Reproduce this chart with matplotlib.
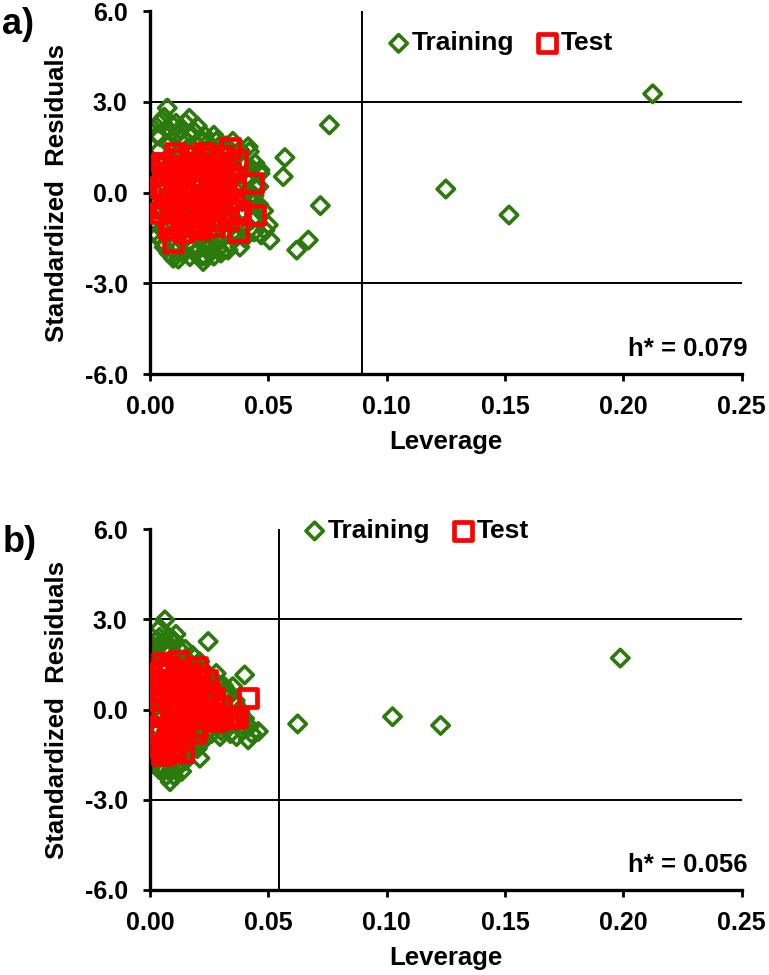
import numpy as np
import matplotlib.pyplot as plt

plt.rcParams['font.family'] = ['Liberation Sans', 'DejaVu Sans']
plt.rcParams['font.weight'] = 'bold'

GREEN = '#2b7a0b'
RED = '#ff0000'

# ---- panel a) data (leverage, standardized residual) ----
train_a_x = [0.0073, 0.0166, 0.0127, 0.0042, 0.0113, 0.0176, 0.0210, 0.0245, 0.0280, 0.0320,
             0.0415, 0.0444, 0.0465, 0.0420, 0.0440, 0.0465, 0.0570, 0.0563, 0.0758, 0.0720,
             0.0669, 0.0620, 0.0507, 0.0500, 0.0486, 0.0460, 0.0430, 0.0400, 0.0360, 0.0338,
             0.0290, 0.0254, 0.0225, 0.0240, 0.0260, 0.0169, 0.0099, 0.0106, 0.0060, 0.0030,
             0.0025, 0.0030, 0.0025, 0.0030, 0.0035, 0.0040, 0.0080, 0.0070, 0.1250, 0.1517,
             0.2124, 0.0080, 0.0120, 0.0150, 0.0180, 0.0200, 0.0220, 0.0250, 0.0280, 0.0300,
             0.0330, 0.0360, 0.0380, 0.0100, 0.0140, 0.0170, 0.0200, 0.0230, 0.0260, 0.0290,
             0.0320, 0.0350, 0.0390, 0.0070, 0.0110, 0.0150, 0.0190, 0.0220, 0.0270, 0.0310,
             0.0060, 0.0130, 0.0160, 0.0210, 0.0240, 0.0090, 0.0120, 0.0050, 0.0180, 0.0280,
             0.0340, 0.0370, 0.0410, 0.0430, 0.0200, 0.0150, 0.0100, 0.0310, 0.0230, 0.0050,
             0.0040, 0.0060, 0.0090, 0.0110, 0.0140, 0.0190, 0.0230, 0.0270, 0.0300, 0.0350,
             0.0380, 0.0400, 0.0420, 0.0450, 0.0470, 0.0440, 0.0400, 0.0380, 0.0330, 0.0300,
             0.0270, 0.0220, 0.0190, 0.0140, 0.0120, 0.0080, 0.0050, 0.0030, 0.0020, 0.0020,
             0.0350, 0.0390, 0.0430, 0.0460, 0.0480, 0.0440, 0.0320, 0.0280, 0.0240, 0.0160]
train_a_y = [2.80, 2.46, 2.08, 1.85, 1.91, 1.91, 1.75, 1.65, 1.70, 1.55,
             1.52, 0.97, 0.64, 1.36, 0.20, 0.75, 1.16, 0.53, 2.24, -0.43,
             -1.57, -1.90, -1.57, -1.07, -1.24, -0.40, -0.90, -1.10, -1.50, -1.67,
             -1.85, -2.00, -2.28, -1.84, -1.68, -2.12, -2.17, -1.95, -1.80, -1.40,
             -1.00, -0.50, 0.00, 0.50, 1.00, 1.40, 1.60, 2.10, 0.12, -0.74,
             3.27, 1.20, 0.90, 1.40, 0.60, 1.10, 0.30, 0.80, 1.20, 0.40,
             0.90, 0.10, 0.60, 0.20, -0.30, -0.80, -0.20, -0.60, -1.00, -0.40,
             -0.90, -0.50, -0.30, -0.70, -1.30, -1.50, -1.20, -1.50, -1.30, -0.10,
             0.60, 0.50, 0.10, 0.70, -0.10, -0.20, -0.90, -1.20, -1.80, 0.20,
             0.50, -1.00, 0.00, -0.30, 2.20, 2.30, 2.20, 1.30, -2.10, 2.40,
             2.30, 2.50, 2.00, 2.30, 1.80, 2.00, 1.90, 1.90, 1.60, 1.70,
             1.40, 0.90, 0.50, -0.80, -1.40, -1.30, -1.50, -1.80, -1.90, -2.00,
             -2.10, -2.10, -2.00, -2.00, -2.20, -2.00, -1.60, 1.90, -0.30, 0.80,
             1.20, 1.00, 0.80, 0.20, -0.60, -0.10, -1.30, -1.60, -1.70, -1.70]
test_a_x = [0.0106, 0.0338, 0.0260, 0.0366, 0.0437, 0.0444, 0.0373, 0.0099, 0.0042, 0.0042,
            0.0060, 0.0080, 0.0100, 0.0120, 0.0130, 0.0150, 0.0160, 0.0180, 0.0190, 0.0200,
            0.0220, 0.0230, 0.0240, 0.0260, 0.0280, 0.0290, 0.0300, 0.0320, 0.0340, 0.0350,
            0.0080, 0.0140, 0.0060, 0.0170, 0.0270, 0.0210, 0.0330, 0.0310,
            0.0050, 0.0070, 0.0090, 0.0110, 0.0120, 0.0140, 0.0160, 0.0170, 0.0190, 0.0210,
            0.0220, 0.0240, 0.0250, 0.0270, 0.0280, 0.0300, 0.0310, 0.0330, 0.0360, 0.0380,
            0.0130, 0.0150, 0.0180, 0.0090, 0.0060, 0.0100, 0.0200, 0.0230, 0.0260, 0.0120]
test_a_y = [1.30, 1.47, 1.19, 1.08, 0.31, -0.74, -1.29, -1.62, -0.68, 0.20,
            0.60, -0.20, 0.40, -0.60, 0.90, 0.00, -1.00, 0.50, -0.40, 1.00,
            0.20, -0.80, 0.70, -0.30, 0.40, 1.00, -0.60, 0.10, 0.70, -0.20,
            -1.20, -1.30, -0.50, 1.20, -1.10, -1.20, -0.90, 0.50,
            1.00, 0.90, 0.70, 0.00, 1.10, 0.30, 0.80, -0.30, 0.20, -0.10,
            0.90, -0.50, 0.30, 0.80, -0.90, 0.20, 1.20, -0.30, 0.30, -0.60,
            -0.90, -0.60, -1.10, -0.90, 0.00, -0.40, 0.50, 1.30, 0.00, 0.50]

# ---- panel b) data ----
train_b_x = [0.0624, 0.1025, 0.1228, 0.1987, 0.0063, 0.0042, 0.0085, 0.0246, 0.0127, 0.0028,
             0.0400, 0.0458, 0.0415, 0.0211, 0.0134, 0.0085, 0.0056, 0.0014, 0.0210, 0.0280,
             0.0350, 0.0380, 0.0420, 0.0366, 0.0296, 0.0211, 0.0140, 0.0020, 0.0020, 0.0020,
             0.0020, 0.0025, 0.0025, 0.0030, 0.0100, 0.0150, 0.0180, 0.0090, 0.0120, 0.0160,
             0.0200, 0.0240, 0.0270, 0.0300, 0.0320, 0.0060, 0.0080, 0.0110, 0.0130, 0.0170,
             0.0190, 0.0220, 0.0250, 0.0290, 0.0330, 0.0340, 0.0050, 0.0070, 0.0100, 0.0150,
             0.0180, 0.0230, 0.0260, 0.0040, 0.0090, 0.0120, 0.0160, 0.0200, 0.0060, 0.0100,
             0.0070, 0.0110, 0.0150, 0.0040, 0.0260, 0.0310, 0.0360, 0.0170,
             0.0010, 0.0010, 0.0010, 0.0010, 0.0010, 0.0030, 0.0050, 0.0070, 0.0100, 0.0110,
             0.0140, 0.0170, 0.0190, 0.0220, 0.0240, 0.0260, 0.0280, 0.0310, 0.0330, 0.0360,
             0.0380, 0.0400, 0.0430, 0.0390, 0.0340, 0.0300, 0.0260, 0.0230, 0.0200, 0.0170,
             0.0150, 0.0120, 0.0090, 0.0070, 0.0040, 0.0030, 0.0250, 0.0210, 0.0180, 0.0290]
train_b_y = [-0.48, -0.24, -0.53, 1.71, 2.98, 2.70, 2.37, 2.26, 1.98, 2.09,
             1.15, -0.73, -1.01, -1.62, -2.06, -2.40, -1.90, 2.08, 1.59, 1.20,
             0.76, -0.10, -0.57, -0.90, -0.90, -1.10, -1.45, 1.50, 1.00, 0.40,
             -0.20, -0.80, -1.30, -1.70, 2.20, 1.70, 1.80, 1.60, 1.20, 1.30,
             0.90, 0.80, 0.60, 0.30, 0.00, 0.90, 0.50, 0.10, -0.30, -0.40,
             -0.70, -0.20, 0.20, -0.50, -0.60, 0.50, -0.30, -0.70, -0.90, -1.10,
             -1.30, -0.80, -0.30, 0.30, -1.60, -1.80, -1.50, -1.30, -2.00, -2.20,
             1.90, 2.50, 2.00, 2.40, 1.00, 0.60, 0.20, 0.40,
             1.80, 1.00, 0.00, -1.00, -1.80, 2.30, 2.20, 2.10, 2.30, 1.80,
             1.60, 1.50, 1.40, 1.30, 1.20, 1.00, 0.90, 0.80, 0.60, 0.30,
             0.00, -0.30, -0.80, -0.70, -0.80, -0.70, -0.80, -1.00, -1.10, -1.30,
             -1.70, -1.90, -2.00, -2.20, -2.00, -1.50, 0.40, 0.00, -0.50, 0.30]
test_b_x = [0.0415, 0.0106, 0.0049, 0.0366, 0.0310, 0.0020, 0.0030, 0.0040, 0.0060, 0.0070,
            0.0080, 0.0090, 0.0100, 0.0110, 0.0120, 0.0130, 0.0140, 0.0150, 0.0160, 0.0170,
            0.0180, 0.0190, 0.0200, 0.0210, 0.0230, 0.0250, 0.0260, 0.0280, 0.0300, 0.0030,
            0.0050, 0.0080, 0.0140, 0.0200, 0.0070,
            0.0020, 0.0020, 0.0040, 0.0050, 0.0060, 0.0070, 0.0080, 0.0090, 0.0100, 0.0110,
            0.0120, 0.0130, 0.0140, 0.0150, 0.0160, 0.0170, 0.0180, 0.0190, 0.0200, 0.0220,
            0.0240, 0.0270, 0.0290, 0.0330, 0.0350, 0.0060, 0.0100, 0.0120, 0.0040, 0.0090]
test_b_y = [0.38, -1.40, 1.54, -0.24, -0.24, 0.00, 0.60, -0.60, 1.00, -1.00,
            0.30, -0.30, 0.80, -0.80, 1.30, 0.00, 0.50, -0.50, 1.00, 0.20,
            -0.20, 0.70, -0.60, 1.10, 0.30, 0.60, -0.10, -0.40, 0.10, -1.20,
            -1.50, 1.40, -1.40, 1.40, -1.45,
            1.00, -0.80, 0.30, -0.20, 0.60, 1.30, -0.70, 0.90, 0.10, 1.20,
            -0.40, 0.80, -1.00, 0.30, -0.20, 1.20, 0.50, -0.80, 0.20, -0.30,
            1.00, 0.40, -0.20, -0.30, -0.30, -1.30, -1.20, 1.60, 1.20, -1.40]

panels = [
    ('a)', train_a_x, train_a_y, test_a_x, test_a_y, 0.0894, 'h* = 0.079', 0.912, 0.426),
    ('b)', train_b_x, train_b_y, test_b_x, test_b_y, 0.0547, 'h* = 0.056', 0.995, 0.284),
]

xticks = [0.00, 0.05, 0.10, 0.15, 0.20, 0.25]
yticks = [-6.0, -3.0, 0.0, 3.0, 6.0]

fig = plt.figure(figsize=(7.69, 9.75), dpi=100)
axes_pos = [[0.195, 0.6164, 0.7695, 0.372], [0.195, 0.0872, 0.7695, 0.3702]]

for (tag, trx, tr_y, tex, tey, hstar, htxt, leg_y, leg_x), pos in zip(panels, axes_pos):
    ax = fig.add_axes(pos)
    ax.axhline(3.0, color='black', lw=1.4, zorder=1)
    ax.axhline(-3.0, color='black', lw=1.4, zorder=1)
    ax.axvline(hstar, color='black', lw=1.4, zorder=1)
    tr = ax.scatter(trx, tr_y, marker='D', s=78, facecolors='none', edgecolors=GREEN,
                    linewidths=2.6, zorder=2, label='Training')
    te = ax.scatter(tex, tey, marker='s', s=165, facecolors='none', edgecolors=RED,
                    linewidths=3.4, zorder=3, label='Test')
    ax.set_xlim(0, 0.25)
    ax.set_ylim(-6, 6)
    ax.set_xticks(xticks)
    ax.set_xticklabels(['%.2f' % v for v in xticks])
    ax.set_yticks(yticks)
    ax.set_yticklabels(['%.1f' % v for v in yticks])
    for s in ['top', 'right']:
        ax.spines[s].set_visible(False)
    for s in ['left', 'bottom']:
        ax.spines[s].set_linewidth(2.4)
    ax.tick_params(axis='both', direction='out', length=5, width=2, labelsize=18)
    ax.tick_params(axis='x', pad=10)
    ax.tick_params(axis='y', pad=11)
    ax.set_xlabel('Leverage', fontsize=18.5, fontweight='bold')
    ax.set_ylabel('Standardized  Residuals', fontsize=18.5, fontweight='bold')
    ax.xaxis.set_label_coords(0.5, -0.155)
    ax.yaxis.set_label_coords(-0.137, 0.5)
    ax.text(1.01, 0.07, htxt, transform=ax.transAxes, ha='right', va='center',
            fontsize=18.5, fontweight='bold')
    ax.legend(handles=[tr, te], loc='center left', bbox_to_anchor=(leg_x - 0.028, leg_y),
              ncol=2, frameon=False, fontsize=19, handletextpad=0.0, columnspacing=0.75,
              handlelength=1.0, borderaxespad=0, borderpad=0)
    fig.text(0.003, pos[1] + pos[3] + 0.004, tag, fontsize=26, fontweight='bold',
             ha='left', va='top')

fig.savefig('out.png', dpi=100)
